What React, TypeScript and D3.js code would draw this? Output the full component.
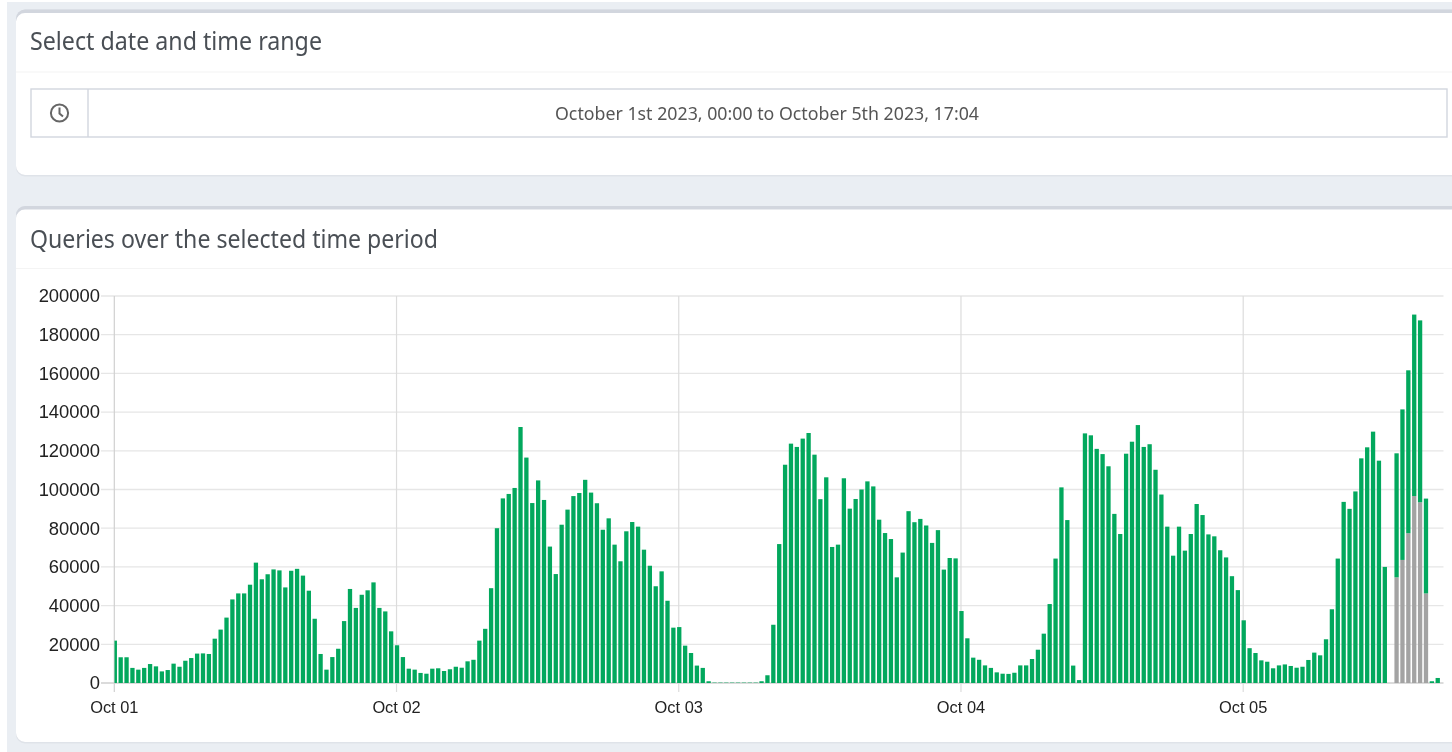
import React from "react";
import * as d3 from "d3";

// Half-hour buckets from Oct 01 00:00, values in thousands of queries
const day1 = [21.9,13.3,13.3,7.8,6.9,7.8,9.8,8.6,6.0,6.7,10,8.4,11.5,12.9,15.2,15.3,15,22.9,27.6,33.8,43.2,46.3,46.3,50.8,62.2,53.6,56.2,58.7,58.2,49.4,58,59,55.5,47.7,33.2,15,6.9,13.4,17.7,32,48.6,38.8,45.6,47.9,52,38.8,37,26.7];
const day2 = [19.5,13.4,7.4,6.9,5.2,4.8,7.4,7.6,6.2,7.1,8.4,7.9,11.2,12,21.9,28,49,80,95.4,97.7,100.8,132.3,116.5,93,104.7,94.6,70.5,56.3,81.8,89.6,96.6,98.2,105,98.4,92.9,79.2,85.1,71.5,62.9,78.4,83.2,80.8,68.9,60.6,50,57.7,42.5,28.6];
const day3 = [28.9,19.3,15.5,9,7.8,0.9,0.2,0.2,0.2,0.2,0.2,0.2,0.2,0.2,0.9,4,30.1,71.8,112.8,123.7,122,126.3,129.2,118,95,106.3,70.3,71.5,105.8,90.1,95.1,100,104.2,101.6,84.4,77.5,74.4,54.6,67.4,88.8,83.1,84.8,81.4,72.4,79,58.6,64.6,64.4];
const day4 = [37.2,23.1,13.1,12,9.1,7.8,5.5,4.8,4.7,5.3,9.1,9.1,12.4,17.2,25.5,40.8,64.3,101.1,84.2,9,1.5,129,128,121,118.3,112,87.4,77,118.5,124.7,133.3,122,123.4,110.2,97.4,80.8,65.8,80.8,68.4,77,92.5,86.8,76.8,75.8,68.6,64.9,55.2,48];
const day5 = [32.4,18,15.5,11.7,11,7.6,9.1,9.6,8.8,7.9,8.4,11.9,15.7,14.3,22.6,38.1,64.3,93.6,90,99,116.1,121.8,129.9,114.9,60,0,64.1,77.8,84.2,93.8,94,49,0.9,2.6];
const greyLast = [54.6,63.6,77.4,96.6,93.4,46.3];
const greyStart = 218;

const greenSeries = [...day1, ...day2, ...day3, ...day4, ...day5];
const yTicks = [0,20000,40000,60000,80000,100000,120000,140000,160000,180000,200000];
const dayTicks = ["Oct 01","Oct 02","Oct 03","Oct 04","Oct 05"];
const title1 = "Select date and time range";
const title2 = "Queries over the selected time period";
const rangeText = "October 1st 2023, 00:00 to October 5th 2023, 17:04";

const GREEN = "#02a85d";
const GREY = "#a3a3a3";
const BORDER = "#d2d6de";
const BG = "#eaeef3";
const GRID = "#e6e6e6";

const t0 = Date.UTC(2023, 9, 1);
const HALF = 30 * 60 * 1000;
const rows = greenSeries.map((g, i) => {
  const idx = i - greyStart;
  const grey = idx >= 0 && idx < greyLast.length ? greyLast[idx] * 1000 : 0;
  return { t: t0 + i * HALF, grey, green: g * 1000 };
});

const x = d3.scaleUtc().domain([new Date(t0), new Date(Date.UTC(2023, 9, 5, 17, 4))]).range([114.8, 1444.4]);
const y = d3.scaleLinear().domain([0, 200000]).range([683, 296]);
const stacked = d3.stack<any>().keys(["grey", "green"])(rows);
const barW = 4.3;
const colors: Record<string, string> = { grey: GREY, green: GREEN };

function Card({ top, bottom, label, textY }: { top: number; bottom: number; label: string; textY: number }) {
  return (
    <g>
      <rect x={16} y={top} width={1460} height={bottom - top + 1.5} rx={9} fill="#dfe3e9" />
      <rect x={16} y={top} width={1460} height={bottom - top} rx={9} fill={BORDER} />
      <path d={`M16 ${top + 12} a9 9 0 0 1 9 -8.5 H1452 V${bottom} H25 a9 9 0 0 1 -9 -9 Z`} fill="#fff" />
      <text x={30} y={textY} fontFamily="'Noto Sans', sans-serif" fontSize={25} fill="#4a4f55"
        textLength={label === title1 ? 292 : 408} lengthAdjust="spacingAndGlyphs">{label}</text>
      <line x1={16} x2={1452} y1={top + 62.5} y2={top + 62.5} stroke="#f4f4f4" strokeWidth={1.2} />
    </g>
  );
}

export default function App() {
  return (
    <svg width={1452} height={752} style={{ position: "fixed", left: 0, top: 0, display: "block", filter: "blur(0.45px)" }}>
      <rect width={1452} height={752} fill="#fff" />
      <rect x={7} y={2} width={1445} height={750} fill={BG} />
      <Card top={9.5} bottom={175} label={title1} textY={50} />
      <Card top={206} bottom={742} label={title2} textY={247.5} />

      <g>
        <rect x={31} y={89} width={1416} height={48} fill="#fff" stroke={BORDER} strokeWidth={1.4} />
        <line x1={88} x2={88} y1={89} y2={137} stroke={BORDER} strokeWidth={1.4} />
        <circle cx={59.5} cy={113} r={8.6} fill="none" stroke="#666" strokeWidth={2} />
        <path d="M59.5 107.5 V113.5 L63 116.5" fill="none" stroke="#666" strokeWidth={2} />
        <text x={767} y={119.5} textAnchor="middle" fontFamily="'Noto Sans', sans-serif" fontSize={18} fill="#555"
          textLength={424} lengthAdjust="spacingAndGlyphs">{rangeText}</text>
      </g>

      <g>
        {yTicks.map((v) => (
          <g key={v}>
            <line x1={101} x2={1443.5} y1={y(v)} y2={y(v)} stroke={v === 0 ? "#cfcfcf" : GRID} strokeWidth={1.3} />
            <text x={100} y={y(v) + 6.3} textAnchor="end" fontFamily="'Liberation Sans', Arial, sans-serif" fontSize={18.4} fill="#222">{v}</text>
          </g>
        ))}
        {dayTicks.map((d, i) => {
          const px = x(new Date(t0 + i * 48 * HALF));
          return (
            <g key={d}>
              <line x1={px - 0.5} x2={px - 0.5} y1={296} y2={692} stroke={i === 0 ? "#d0d0d0" : "#dcdcdc"} strokeWidth={1.2} />
              <text x={px - 0.5} y={713} textAnchor="middle" fontFamily="'Liberation Sans', Arial, sans-serif" fontSize={16.4} fill="#222">{d}</text>
            </g>
          );
        })}
      </g>

      <defs>
        <clipPath id="plot"><rect x={114.5} y={290} width={1330} height={394} /></clipPath>
      </defs>
      <g clipPath="url(#plot)">
        {stacked.map((s) => (
          <g key={s.key} fill={colors[s.key]}>
            {s.map((d, i) => {
              const h = y(d[0]) - y(d[1]);
              if (h <= 0) return null;
              return <rect key={i} x={x(new Date(rows[i].t)) - barW / 2} y={y(d[1])} width={barW} height={h} />;
            })}
          </g>
        ))}
      </g>
    </svg>
  );
}
